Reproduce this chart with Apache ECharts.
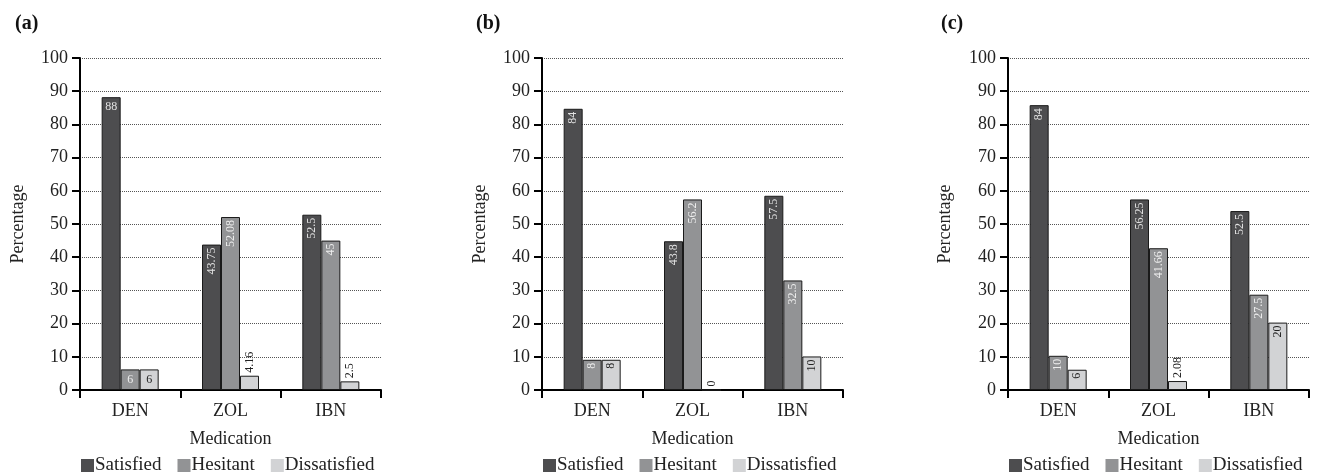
<!DOCTYPE html>
<html>
<head>
<meta charset="utf-8">
<script src="https://cdn.jsdelivr.net/npm/echarts@6/dist/echarts.min.js"></script>
<style>
html,body{margin:0;padding:0;background:#fff;}
#chart{width:1320px;height:472px;}
</style>
</head>
<body>
<div id="chart"></div>
<script>
// ---- data ----
const categories = ['DEN', 'ZOL', 'IBN'];
const seriesNames = ['Satisfied', 'Hesitant', 'Dissatisfied'];
const panelTitles = ['(a)', '(b)', '(c)'];
const yTicks = [0, 100, 10]; // min, max, interval

// Panel (a): bar heights and printed labels
const aSatisfied = [88.2, 43.8, 52.8];
const aSatisfiedLabels = ['88', '43.75', '52.5'];
const aHesitant = [6.2, 52.1, 45.0];
const aHesitantLabels = ['6', '52.08', '45'];
const aDissatisfied = [6.2, 4.3, 2.6];
const aDissatisfiedLabels = ['6', '4.16', '2.5'];

// Panel (b)
const bSatisfied = [84.7, 44.8, 58.5];
const bSatisfiedLabels = ['84', '43.8', '57.5'];
const bHesitant = [9.1, 57.4, 33.0];
const bHesitantLabels = ['8', '56.2', '32.5'];
const bDissatisfied = [9.1, 0, 10.1];
const bDissatisfiedLabels = ['8', '0', '10'];

// Panel (c)
const cSatisfied = [85.8, 57.4, 53.9];
const cSatisfiedLabels = ['84', '56.25', '52.5'];
const cHesitant = [10.3, 42.7, 28.7];
const cHesitantLabels = ['10', '41.66', '27.5'];
const cDissatisfied = [6.1, 2.7, 20.3];
const cDissatisfiedLabels = ['6', '2.08', '20'];

// ---- layout / style ----
const panels = [
  {values: [aSatisfied, aHesitant, aDissatisfied], labels: [aSatisfiedLabels, aHesitantLabels, aDissatisfiedLabels], left: 80, titleX: 10, nameX: 18, horizontalFirst: true},
  {values: [bSatisfied, bHesitant, bDissatisfied], labels: [bSatisfiedLabels, bHesitantLabels, bDissatisfiedLabels], left: 542, titleX: 471, nameX: 480, horizontalFirst: false},
  {values: [cSatisfied, cHesitant, cDissatisfied], labels: [cSatisfiedLabels, cHesitantLabels, cDissatisfiedLabels], left: 1008, titleX: 936, nameX: 945, horizontalFirst: false}
];
const plotWidth = 301;
const colors = ['#4d4d4f', '#929395', '#d2d3d5'];
const insideLabelColors = ['#e2e2e2', '#eeeeee', '#222222'];
const SERIF = '"Liberation Serif", "DejaVu Serif", serif';

const option = {
  animation: false,
  backgroundColor: '#fff',
  title: [], grid: [], xAxis: [], yAxis: [], legend: [], series: []
};

panels.forEach((p, pi) => {
  option.title.push({
    text: panelTitles[pi], left: p.titleX, top: 9,
    textStyle: {fontFamily: SERIF, fontSize: 20, fontWeight: 'bold', color: '#111'}
  });
  option.grid.push({left: p.left, width: plotWidth, top: 58, bottom: 82, containLabel: false});
  option.xAxis.push({
    type: 'category', gridIndex: pi, data: categories,
    name: 'Medication', nameLocation: 'middle', nameGap: 40,
    nameTextStyle: {fontFamily: SERIF, fontSize: 18, color: '#222'},
    axisLine: {lineStyle: {color: '#000', width: 2}},
    axisTick: {show: true, length: 8, lineStyle: {color: '#000', width: 2}, alignWithLabel: false},
    axisLabel: {fontFamily: SERIF, fontSize: 18, color: '#222', margin: 12},
    splitLine: {show: false}
  });
  option.yAxis.push({
    type: 'value', gridIndex: pi, min: yTicks[0], max: yTicks[1], interval: yTicks[2],
    name: 'Percentage', nameLocation: 'middle', nameGap: p.left - p.nameX - 9,
    nameTextStyle: {fontFamily: SERIF, fontSize: 18, color: '#222'},
    axisLine: {show: true, lineStyle: {color: '#000', width: 2}},
    axisTick: {show: true, length: 8, lineStyle: {color: '#000', width: 2}},
    axisLabel: {fontFamily: SERIF, fontSize: 18, color: '#222', margin: 12},
    splitLine: {show: true, lineStyle: {color: '#555', width: 1, type: 'dotted'}}
  });
  option.legend.push({
    data: seriesNames, left: p.left - 4, top: 451,
    icon: 'rect', itemWidth: 13, itemHeight: 13, itemGap: 16,
    itemStyle: {borderWidth: 0},
    textStyle: {fontFamily: SERIF, fontSize: 19, color: '#222', padding: [0, 0, 0, -4]},
    selectedMode: false
  });
  seriesNames.forEach((name, si) => {
    const data = p.values[si].map((v, ci) => {
      const txt = p.labels[si][ci];
      const horizontal = p.horizontalFirst && ci === 0;
      const outside = v < 5;
      let label;
      if (outside) {
        label = {show: true, position: 'top', distance: 3, rotate: 90, align: 'left', verticalAlign: 'middle', color: '#222', formatter: txt};
      } else if (horizontal) {
        label = {show: true, position: 'insideTop', distance: 4, rotate: 0, color: insideLabelColors[si], formatter: txt};
      } else {
        label = {show: true, position: 'insideTop', distance: 3, rotate: 90, align: 'right', verticalAlign: 'middle', color: insideLabelColors[si], formatter: txt};
      }
      return {value: v, label: label};
    });
    option.series.push({
      type: 'bar', name: name, xAxisIndex: pi, yAxisIndex: pi,
      barWidth: 19, barGap: '0%',
      itemStyle: {color: colors[si], borderColor: '#1a1a1a', borderWidth: 1},
      label: {fontFamily: SERIF, fontSize: 12},
      emphasis: {disabled: true},
      data: data
    });
  });
});

const chart = echarts.init(document.getElementById('chart'), null, {renderer: 'canvas'});
chart.setOption(option);
</script>
</body>
</html>
